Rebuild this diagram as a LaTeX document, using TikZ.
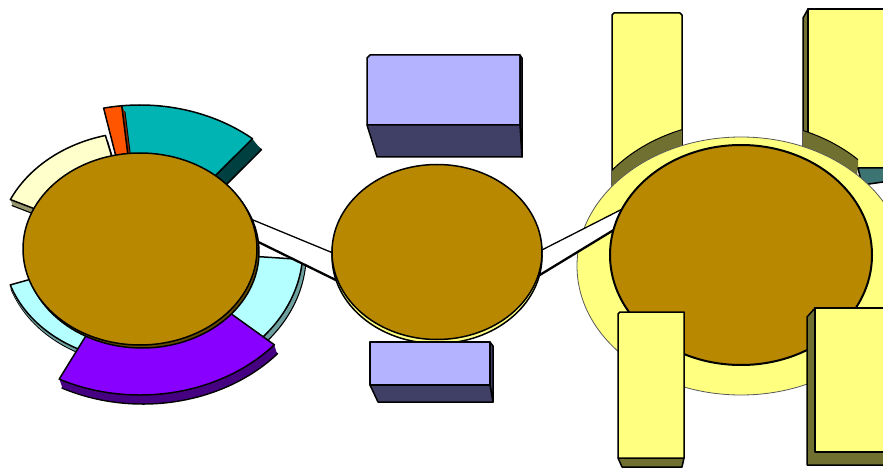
\documentclass[tikz,border=0pt]{standalone}
\usetikzlibrary{calc}
\definecolor{brownc}{RGB}{184,136,0}
\definecolor{ringy}{RGB}{255,255,128}
\definecolor{paley}{RGB}{255,255,204}
\definecolor{paleyd}{RGB}{150,150,110}
\definecolor{tealc}{RGB}{0,180,180}
\definecolor{teald}{RGB}{0,64,64}
\definecolor{orangec}{RGB}{255,85,0}
\definecolor{oranged}{RGB}{130,40,0}
\definecolor{purplec}{RGB}{136,0,255}
\definecolor{purpled}{RGB}{70,0,130}
\definecolor{cyanc}{RGB}{180,255,255}
\definecolor{cyand}{RGB}{110,160,160}
\definecolor{lav}{RGB}{179,179,255}
\definecolor{lavd}{RGB}{64,64,102}
\definecolor{olive}{RGB}{112,112,48}
\definecolor{tealpiece}{RGB}{60,115,115}
% #1 options, #2 ai, #3 bi, #4 ao, #5 bo, #6 t1, #7 t2
\newcommand{\secp}[7]{\path[#1] (#6:#4 and #5) arc[start angle=#6,end angle=#7,x radius=#4,y radius=#5] -- (#7:#2 and #3) arc[start angle=#7,end angle=#6,x radius=#2,y radius=#3] -- cycle;}
% #1 top colour, #2 side colour, #3 shift, #4..#9 as above
\newcommand{\exsec}[9]{%
  \secp{ol,fill=#2,shift={#3}}{#4}{#5}{#6}{#7}{#8}{#9}
  \foreach \s in {0.9,0.8,0.7,0.6,0.5,0.4,0.3,0.2,0.1}{\secp{fill=#2,shift={($\s*#3$)}}{#4}{#5}{#6}{#7}{#8}{#9}}
  \secp{ol,fill=#1}{#4}{#5}{#6}{#7}{#8}{#9}}
\begin{document}
\begin{tikzpicture}[x=1pt,y=1pt,yscale=-1,line join=round,
  ol/.style={draw=black,line width=1.5pt}]
\useasboundingbox (0,0) rectangle (883,470);
\fill[white] (0,0) rectangle (883,470);
% ---------- left ring segments ----------
\begin{scope}[shift={(140,249)}]
  \exsec{paley}{paleyd}{(2,6)}{115}{94}{143}{117}{-104}{-155}
  \exsec{tealc}{teald}{(9,11)}{115}{94}{175}{144}{-50}{-96}
  \exsec{orangec}{oranged}{(3,6)}{115}{94}{175}{144}{-96}{-102}
  \exsec{cyanc}{cyand}{(3,5)}{115}{94}{163}{134}{4.5}{50}
  \exsec{cyanc}{cyand}{(1,4)}{115}{94}{137}{112}{-198.7}{-250}
  \exsec{purplec}{purpled}{(3,9)}{115}{94}{178}{146}{-243}{-319}
\end{scope}
% ---------- right background: tall top boxes and ring ----------
\draw[ol,fill=ringy] (682,200) -- (682,15) -- (680,13) -- (614,13) -- (612,15) -- (612,200);
\begin{scope}
  \clip (612,13) rectangle (682,200);
  \draw[line width=1pt,fill=olive] (741,250) ellipse[x radius=164,y radius=129];
\end{scope}
\draw[ol,fill=olive] (803,18) -- (808,9) -- (808,165) -- (803,165) -- cycle;
\draw[ol,fill=ringy] (808,9) -- (890,9) -- (890,168) -- (808,168) -- cycle;
\begin{scope}
  \clip (803,0) -- (858,0) -- (858,166) -- (855,195) -- (803,195) -- cycle;
  \draw[line width=1pt,fill=olive] (741,250) ellipse[x radius=164,y radius=129];
\end{scope}
\draw[ol,fill=tealpiece] (858,168) -- (890,168) -- (890,181) -- (862,185) -- cycle;
\draw[line width=0.8pt,draw=black!65,fill=ringy] (741,266) ellipse[x radius=164,y radius=129];
% ---------- bars ----------
\coordinate (b1a) at (240,214.6); \coordinate (b1b) at (350,260);
\coordinate (b1c) at (350,287);   \coordinate (b1d) at (240,233);
\fill[white] (b1a) -- (b1b) -- (b1c) -- (b1d) -- cycle;
\draw[line width=1.3pt] (b1a) -- (b1b);
\draw[line width=2.3pt] (b1d) -- (b1c);
\coordinate (b2a) at (525,258.6); \coordinate (b2b) at (640,200);
\coordinate (b2c) at (640,214);   \coordinate (b2d) at (525,284);
\fill[white] (b2a) -- (b2b) -- (b2c) -- (b2d) -- cycle;
\draw[line width=1.3pt] (b2a) -- (b2b);
\draw[line width=2.3pt] (b2d) -- (b2c);
% ---------- left disc ----------
\draw[ol,fill=brownc!55!black] (142,252) ellipse[x radius=117,y radius=96];
\draw[ol,fill=brownc] (140,249) ellipse[x radius=117,y radius=96];
% ---------- middle ----------
\draw[ol,fill=lav] (367,58) -- (370,55) -- (520,55) -- (520,125) -- (367,125) -- cycle;
\draw[ol,fill=lavd] (520,55) -- (522,58) -- (522,157) -- (520,125) -- cycle;
\draw[ol,fill=lavd] (367,125) -- (520,125) -- (522,157) -- (377,157) -- cycle;
\draw[ol,fill=ringy] (437,256) ellipse[x radius=105,y radius=87.5];
\draw[ol,fill=brownc] (437,252) ellipse[x radius=105,y radius=87.5];
\draw[ol,fill=lav] (370,342) rectangle (490,385);
\draw[ol,fill=lavd] (490,342) -- (493,346) -- (493,402) -- (490,385) -- cycle;
\draw[ol,fill=lavd] (370,385) -- (490,385) -- (493,402) -- (378,402) -- cycle;
% ---------- right disc and front boxes ----------
\draw[ol,line width=2pt,fill=brownc] (741,255) ellipse[x radius=131,y radius=110];
\draw[ol,fill=olive] (618,458) -- (684,458) -- (682,467) -- (622,467) -- cycle;
\draw[ol,fill=ringy] (618,314) -- (620,312) -- (684,312) -- (684,458) -- (618,458) -- cycle;
\draw[ol,fill=olive] (807,317) -- (815,308) -- (890,308) -- (890,465) -- (807,465) -- cycle;
\draw[ol,fill=ringy] (815,308) rectangle (890,452);
\end{tikzpicture}
\end{document}
